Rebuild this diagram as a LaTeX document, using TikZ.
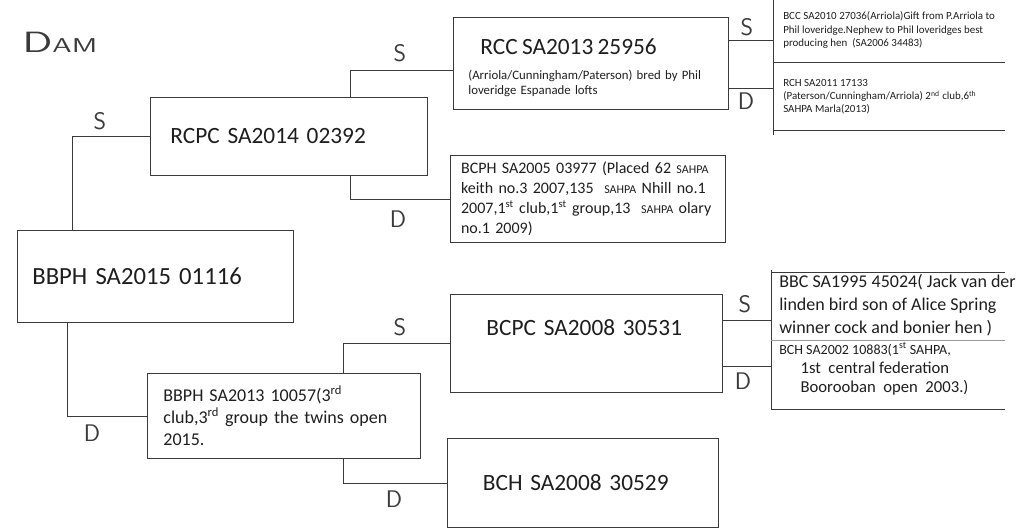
\documentclass[tikz,border=0pt]{standalone}
\usepackage{fontspec}
\setmainfont{Carlito}
\usetikzlibrary{positioning, calc}
\definecolor{Ink}{HTML}{1E1E1E}
\definecolor{Pencil}{HTML}{3A3A3A}
\definecolor{Faint}{HTML}{9A9A9A}

\begin{document}
\begin{tikzpicture}[x=0.75pt, y=-0.75pt,
          pbox/.style={rectangle, draw=Pencil, line width=0.6pt, anchor=north west,
                        align=left, inner ysep=2pt, text=Ink},
          big/.style={font=\fontsize{17.5}{22}\selectfont},
          note/.style={anchor=west, align=left, inner sep=0pt, text=Ink},
          conn/.style={draw=Pencil, line width=0.6pt},
          hand/.style={font=\sffamily\fontsize{18}{18}\selectfont, text=Pencil, inner sep=0pt}
        ]
          \useasboundingbox (0,0) rectangle (1022,529);
          \node[hand] (dam) at (60,42) {\scalebox{1.5}[1]{{\fontsize{22}{22}\selectfont D}{\fontsize{15}{15}\selectfont AM}}};
          % generation 1 and 2
          \node[pbox, big, font=\fontsize{18.5}{22}\selectfont, minimum height=69pt, text width=184.5pt, inner xsep=11.25pt] (p0) at (17,230) {BBPH SA2015 01116};
          \node[pbox, big, minimum height=58.5pt, text width=177.75pt, inner xsep=15pt] (p1) at (150,97) {RCPC SA2014 02392};
          \node[pbox, minimum height=63.75pt, text width=180.75pt, inner xsep=12pt,
                font=\fontsize{13.5}{16.5}\selectfont] (p2) at (147,373)
                {BBPH SA2013 10057(3\textsuperscript{rd}\\club,3\textsuperscript{rd} group the twins open\\2015.};
          % generation 3
          \node[pbox, minimum height=69pt, text width=183.75pt, inner xsep=11.25pt,
                text height=19pt, font=\fontsize{9.6}{11.5}\selectfont] (p11) at (453,17)
                {\hspace*{9pt}{\fontsize{17.5}{22}\selectfont RCC SA2013 25956}\\[7pt]
                 (Arriola/Cunningham/Paterson) bred by Phil\\loveridge Espanade lofts};
          \node[pbox, minimum height=65.25pt, text width=190.25pt, inner xsep=8pt,
                font=\fontsize{12}{15}\selectfont] (p12) at (450,155)
                {BCPH SA2005 03977 (Placed 62 {\fontsize{9}{15}\selectfont SAHPA}\\
                 keith no.3 2007,135 \ {\fontsize{9}{15}\selectfont SAHPA} Nhill no.1\\
                 2007,1\textsuperscript{st} club,1\textsuperscript{st} group,13 \ {\fontsize{9}{15}\selectfont SAHPA} olary\\
                 no.1 2009)};
          \node[pbox, big, minimum height=73.5pt, text width=150pt, inner xsep=27pt,
                text height=12pt, text depth=24pt] (p21) at (450,294) {BCPC SA2008 30531};
          \node[pbox, big, minimum height=66.75pt, text width=150pt, inner xsep=26.6pt] (p22) at (447,438) {BCH SA2008 30529};
          % generation 4
          \coordinate (ta) at (773,0);
          \coordinate (tb) at (773,135);
          \coordinate (ba) at (771,270);
          \coordinate (bb) at (771,410);
          \draw[conn] (ta) -- (tb);
          \draw[conn] (773,62) -- (1005,62);
          \draw[conn] (773,130) -- (1005,130);
          \draw[conn] (ba) -- (bb);
          \draw[conn] (771,272) -- (1005,272);
          \draw[conn, draw=Faint] (771,340) -- (1005,340);
          \draw[conn] (771,409) -- (1005,409);
          \node[note, font=\fontsize{8.2}{9.8}\selectfont] (p111) at (783,30)
                {BCC SA2010 27036(Arriola)Gift from P.Arriola to\\Phil loveridge.Nephew to Phil loveridges best\\producing hen \ (SA2006 34483)};
          \node[note, font=\fontsize{8.2}{9.8}\selectfont] (p112) at (783,97)
                {RCH SA2011 17133\\(Paterson/Cunningham/Arriola) 2\textsuperscript{nd} club,6\textsuperscript{th}\\SAHPA Marla(2013)};
          \node[note, font=\fontsize{13.5}{17.5}\selectfont] (p211) at (779,305)
                {BBC SA1995 45024( Jack van der\\linden bird son of Alice Spring\\winner cock and bonier hen )};
          \node[note, font=\fontsize{12.5}{14.5}\selectfont] (p212) at (779,369)
                {{\fontsize{10.5}{14.5}\selectfont BCH SA2002 10883(1\textsuperscript{st} SAHPA,}\\
                 \hspace*{16pt}1st \ central federation\\\hspace*{16pt}Boorooban \ open \ 2003.)};
          % connectors
          \draw[conn] (p1.west) -| ($(p0.north west)+(55,0)$);
          \draw[conn] ($(p0.south west)+(50,0)$) |- (p2.west);
          \draw[conn] ($(p1.north west)+(200,0)$) |- ($(p11.west)+(0,7)$);
          \draw[conn] ($(p1.south west)+(200,0)$) |- (p12.west);
          \draw[conn] ($(p2.north west)+(196,0)$) |- (p21.west);
          \draw[conn] ($(p2.south west)+(196,0)$) |- (p22.west);
          \draw[conn] ([yshift=17.25pt]p11.east) coordinate (q1) -- (q1 -| ta);
          \draw[conn] ([yshift=-18.75pt]p11.east) coordinate (q2) -- (q2 -| ta);
          \draw[conn] ([yshift=17.25pt]p21.east) coordinate (q3) -- (q3 -| ba);
          \draw[conn] ([yshift=-17.25pt]p21.east) coordinate (q4) -- (q4 -| ba);
          % sire and dam marks
          \node[hand] (m1) at (100,121) {S};
          \node[hand] (m2) at (92,433) {D};
          \node[hand] (m11) at (400,53) {S};
          \node[hand] (m12) at (398,219) {D};
          \node[hand] (m21) at (400,327) {S};
          \node[hand] (m22) at (394,499) {D};
          \node[hand] (m111) at (747,27) {S};
          \node[hand] (m112) at (746,101) {D};
          \node[hand] (m211) at (745,304) {S};
          \node[hand] (m212) at (743,381) {D};
        \end{tikzpicture}
\end{document}
